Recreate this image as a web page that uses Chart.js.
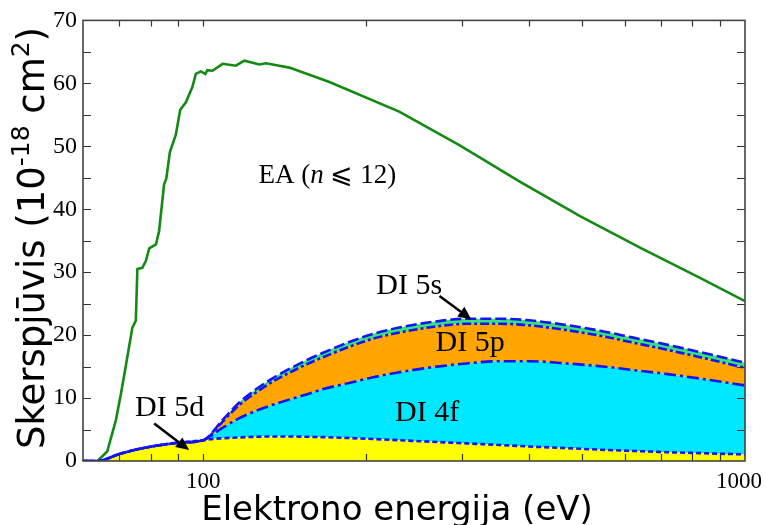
<!DOCTYPE html>
<html>
<head>
<meta charset="utf-8">
<script src="https://cdn.jsdelivr.net/npm/chart.js@4.4.0/dist/chart.umd.min.js"></script>
<style>
  html, body { margin: 0; padding: 0; background: #fff; }
</style>
</head>
<body>
<canvas id="chart" width="766" height="525"></canvas>
<script>
// energies (eV) shared by the stacked DI curves
const energiesDI = [60, 63.8, 70, 76, 83, 90, 100, 102.6, 107.8, 116.6, 125, 134, 144, 155, 166, 186, 206, 230, 265, 306, 352, 400, 468, 540, 622, 720, 826, 1000];
// shell contributions (1e-18 cm2), stacked bottom to top
const di5d = [0, 0, 1.1, 1.9, 2.5, 2.9, 3.3, 3.45, 3.6, 3.75, 3.85, 3.9, 3.9, 3.85, 3.8, 3.65, 3.5, 3.3, 3.05, 2.8, 2.55, 2.3, 2.05, 1.8, 1.6, 1.4, 1.25, 1.05];
const di4f = [0, 0, 0, 0, 0, 0, 0, 0.35, 1.5, 3.05, 4.1, 5.0, 5.85, 6.7, 7.6, 8.75, 9.8, 10.8, 11.85, 12.7, 13.3, 13.55, 13.45, 13.25, 12.85, 12.4, 11.85, 10.95];
const di5p = [0, 0, 0, 0, 0, 0, 0, 0.1, 0.85, 2.1, 2.9, 3.65, 4.25, 4.8, 5.05, 5.75, 6.15, 6.3, 6.4, 6.3, 5.95, 5.7, 5.3, 4.85, 4.35, 3.85, 3.4, 2.8];
const di5s = [0, 0, 0, 0, 0, 0, 0, 0.1, 0.25, 0.4, 0.5, 0.55, 0.6, 0.65, 0.7, 0.75, 0.75, 0.8, 0.8, 0.8, 0.8, 0.8, 0.8, 0.8, 0.8, 0.8, 0.8, 0.8];

// excitation-autoionization curve
const energiesEA = [63.8, 66.5, 69.0, 70.5, 71.9, 74.0, 75.1, 75.6, 77.2, 78.4, 79.5, 81.8, 82.9, 84.7, 85.5, 86.8, 89.0, 90.7, 92.9, 95.5, 96.9, 99.0, 100.9, 101.8, 104.0, 108.6, 114.9, 119.1, 126.9, 130.6, 138.2, 144.2, 171, 230, 297, 384, 496, 640, 826, 1000];
const eaValues = [0, 1.5, 6.5, 10.7, 14.9, 21.2, 22.3, 30.5, 30.7, 31.8, 33.8, 34.4, 36.5, 44.0, 44.9, 49.1, 51.8, 55.8, 57.0, 59.4, 61.5, 61.9, 61.5, 62.1, 62.0, 63.1, 62.8, 63.6, 63.0, 63.2, 62.8, 62.5, 60.2, 55.5, 50.2, 44.4, 38.9, 33.9, 29.1, 25.4];

const xTickLabels = [100, 1000];
const xTickMarks = [70, 80, 90, 100, 200, 300, 400, 500, 600, 700, 800, 900];
const yTickMarks = [5, 10, 15, 20, 25, 30, 35, 40, 45, 50, 55, 60, 65];

// text labels and arrows placed in data coordinates
const notes = [
  { text: 'DI 5s', x: 240, y: 26.6 },
  { text: 'DI 5p', x: 311, y: 17.5 },
  { text: 'DI 4f', x: 259, y: 6.3 },
  { text: 'DI 5d', x: 86.7, y: 7.1 }
];
const arrows = [
  { from: [273, 26.2], to: [312.5, 22.5] },
  { from: [81.2, 5.95], to: [94.2, 1.74] }
];

const SERIF = "'Liberation Serif', 'DejaVu Serif', serif";
const SANS = "'DejaVu Sans', sans-serif";
const BLUE = '#1414f5';

const pts = (xs, ys) => xs.map((x, i) => ({ x: x, y: ys[i] }));

const decor = {
  id: 'decor',
  afterDraw(chart) {
    const { ctx, chartArea: a, scales: { x, y } } = chart;
    ctx.save();

    // inward ticks on all four sides
    ctx.strokeStyle = '#333';
    ctx.lineWidth = 1.2;
    ctx.beginPath();
    xTickMarks.forEach(v => {
      const px = Math.round(x.getPixelForValue(v)) + 0.5;
      ctx.moveTo(px, a.bottom); ctx.lineTo(px, a.bottom - 7);
      ctx.moveTo(px, a.top); ctx.lineTo(px, a.top + 6);
    });
    yTickMarks.forEach(v => {
      const py = Math.round(y.getPixelForValue(v)) + 0.5;
      ctx.moveTo(a.left, py); ctx.lineTo(a.left + 8, py);
      ctx.moveTo(a.right, py); ctx.lineTo(a.right - 8, py);
    });
    ctx.stroke();

    ctx.lineWidth = 1.6;
    ctx.strokeStyle = '#444';
    ctx.strokeRect(a.left, a.top, a.right - a.left, a.bottom - a.top);

    // x tick labels
    ctx.fillStyle = '#000';
    ctx.font = '23px ' + SERIF;
    ctx.textAlign = 'center';
    ctx.textBaseline = 'alphabetic';
    xTickLabels.forEach(v => {
      const w = ctx.measureText(String(v)).width;
      let px = x.getPixelForValue(v);
      px = Math.min(px, chart.width - 4 - w / 2);
      ctx.fillText(String(v), px, 488);
    });

    // region labels
    ctx.font = '30px ' + SERIF;
    notes.forEach(n => {
      ctx.fillText(n.text, x.getPixelForValue(n.x), y.getPixelForValue(n.y));
    });

    // EA label with italic n
    const eaParts = [
      { t: 'EA (', f: '27px ' + SERIF },
      { t: 'n', f: 'italic 27px ' + SERIF },
      { t: ' \u2A7D 12)', f: '27px ' + SERIF }
    ];
    let total = 0;
    eaParts.forEach(p => { ctx.font = p.f; p.w = ctx.measureText(p.t).width; total += p.w; });
    let cx = x.getPixelForValue(169.5) - total / 2;
    const cy = y.getPixelForValue(44.1);
    ctx.textAlign = 'left';
    eaParts.forEach(p => { ctx.font = p.f; ctx.fillText(p.t, cx, cy); cx += p.w; });

    // arrows
    ctx.strokeStyle = '#000';
    ctx.fillStyle = '#000';
    ctx.lineWidth = 2.5;
    arrows.forEach(ar => {
      const x0 = x.getPixelForValue(ar.from[0]), y0 = y.getPixelForValue(ar.from[1]);
      const x1 = x.getPixelForValue(ar.to[0]), y1 = y.getPixelForValue(ar.to[1]);
      const ang = Math.atan2(y1 - y0, x1 - x0);
      const hl = 13, hw = 6;
      const bx = x1 - hl * Math.cos(ang), by = y1 - hl * Math.sin(ang);
      ctx.beginPath();
      ctx.moveTo(x0, y0); ctx.lineTo(bx, by);
      ctx.stroke();
      ctx.beginPath();
      ctx.moveTo(x1, y1);
      ctx.lineTo(bx + hw * Math.sin(ang), by - hw * Math.cos(ang));
      ctx.lineTo(bx - hw * Math.sin(ang), by + hw * Math.cos(ang));
      ctx.closePath();
      ctx.fill();
    });

    // axis titles
    ctx.fillStyle = '#000';
    ctx.font = '34px ' + SANS;
    ctx.textAlign = 'center';
    ctx.fillText('Elektrono energija (eV)', 397, 520);

    ctx.translate(44, 238);
    ctx.rotate(-Math.PI / 2);
    const yParts = [
      { t: 'Skerspj\u016Bvis (10', f: '37px ' + SANS, dy: 0 },
      { t: '-18', f: '25px ' + SANS, dy: -15 },
      { t: ' cm', f: '37px ' + SANS, dy: 0 },
      { t: '2', f: '25px ' + SANS, dy: -15 },
      { t: ')', f: '37px ' + SANS, dy: 0 }
    ];
    total = 0;
    yParts.forEach(p => { ctx.font = p.f; p.w = ctx.measureText(p.t).width; total += p.w; });
    let tx = -total / 2;
    ctx.textAlign = 'left';
    yParts.forEach(p => { ctx.font = p.f; ctx.fillText(p.t, tx, p.dy); tx += p.w; });

    ctx.restore();
  }
};

new Chart(document.getElementById('chart'), {
  type: 'line',
  data: {
    datasets: [
      {
        label: 'DI 5d',
        data: pts(energiesDI, di5d),
        borderColor: BLUE,
        backgroundColor: '#ffff00',
        borderWidth: 2.6,
        borderDash: [5, 3],
        fill: 'origin',
        cubicInterpolationMode: 'monotone'
      },
      {
        label: 'DI 4f',
        data: pts(energiesDI, di4f),
        borderColor: BLUE,
        backgroundColor: '#00e8ff',
        borderWidth: 2.6,
        borderDash: [12, 4, 3, 4],
        fill: '-1',
        cubicInterpolationMode: 'monotone'
      },
      {
        label: 'DI 5p',
        data: pts(energiesDI, di5p),
        borderColor: BLUE,
        backgroundColor: '#ffa500',
        borderWidth: 2.6,
        borderDash: [9, 3, 3, 3],
        fill: '-1',
        cubicInterpolationMode: 'monotone'
      },
      {
        label: 'DI 5s',
        data: pts(energiesDI, di5s),
        borderColor: BLUE,
        backgroundColor: '#3ae27a',
        borderWidth: 2.6,
        borderDash: [11, 4],
        fill: '-1',
        cubicInterpolationMode: 'monotone'
      },
      {
        label: 'EA',
        data: pts(energiesEA, eaValues),
        stack: 'ea',
        borderColor: '#138a13',
        borderWidth: 2.6,
        fill: false,
        tension: 0
      }
    ]
  },
  options: {
    responsive: false,
    animation: false,
    devicePixelRatio: 1,
    layout: { padding: { top: 18, right: 21, left: 0, bottom: 0 } },
    elements: { point: { radius: 0 } },
    plugins: {
      legend: { display: false },
      tooltip: { enabled: false },
      filler: { drawTime: 'beforeDatasetsDraw' }
    },
    scales: {
      x: {
        type: 'logarithmic',
        min: 60,
        max: 1000,
        grid: { display: false },
        border: { display: false },
        ticks: { display: false },
        afterFit: (s) => { s.height = 64; }
      },
      y: {
        stacked: true,
        min: 0,
        max: 70,
        grid: { display: false, drawTicks: false },
        border: { display: false },
        ticks: {
          stepSize: 10,
          padding: 6,
          color: '#000',
          font: { family: SERIF, size: 24 }
        },
        afterFit: (s) => { s.width = 83; }
      }
    }
  },
  plugins: [decor]
});
</script>
</body>
</html>
